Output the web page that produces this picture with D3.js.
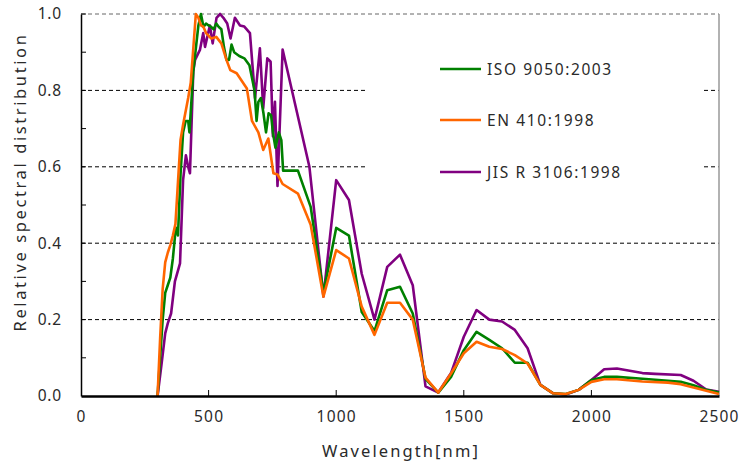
<!DOCTYPE html>
<html><head><meta charset="utf-8">
<script src="https://cdn.jsdelivr.net/npm/d3@7"></script>
<style>body{margin:0;background:#fff}svg{display:block}text{font-family:"Noto Sans",Arial,sans-serif;fill:#2a2a2a}</style>
</head><body>
<svg id="c" width="742" height="466"></svg>
<script>
const seriesNames = ["ISO 9050:2003", "EN 410:1998", "JIS R 3106:1998"];
const seriesColors = ["#008000", "#ff6600", "#800080"];
const isoWave = [300,310,320,330,340,350,360,370,375,380,390,400,410,420,425,440,460,470,480,490,500,510,520,530,540,550,560,570,580,590,600,620,640,660,680,688,695,705,715,725,735,745,752,762,775,785,792,850,900,950,1000,1050,1100,1150,1200,1250,1300,1350,1400,1450,1500,1550,1600,1650,1700,1750,1800,1850,1900,1950,2000,2050,2100,2200,2300,2350,2400,2450,2500];
const isoVal  = [0,0.1,0.2,0.27,0.29,0.31,0.36,0.43,0.44,0.42,0.58,0.69,0.72,0.72,0.69,0.85,0.97,1.0,0.966,0.975,0.97,0.966,0.96,0.975,0.966,0.96,0.914,0.88,0.88,0.92,0.9,0.89,0.884,0.866,0.8,0.72,0.77,0.78,0.74,0.69,0.74,0.735,0.69,0.65,0.69,0.67,0.59,0.59,0.495,0.27,0.44,0.42,0.22,0.17,0.277,0.286,0.216,0.045,0.009,0.05,0.12,0.168,0.147,0.125,0.087,0.087,0.029,0.007,0.005,0.016,0.042,0.05,0.05,0.045,0.04,0.037,0.028,0.016,0.009];
const enWave = [300,310,320,330,340,350,360,370,380,390,400,420,430,450,460,470,480,490,510,530,550,570,585,610,625,650,670,695,714,734,754,770,790,850,900,950,1000,1050,1100,1150,1200,1250,1300,1350,1400,1450,1500,1550,1600,1650,1700,1750,1800,1850,1900,1950,2000,2050,2100,2200,2300,2350,2400,2450,2500];
const enVal  = [0,0.15,0.28,0.35,0.375,0.395,0.42,0.45,0.56,0.67,0.71,0.78,0.82,1.0,0.99,0.97,0.966,0.95,0.936,0.94,0.923,0.88,0.853,0.845,0.83,0.805,0.72,0.69,0.644,0.674,0.583,0.58,0.555,0.53,0.448,0.26,0.382,0.36,0.234,0.16,0.244,0.244,0.2,0.048,0.009,0.059,0.112,0.142,0.129,0.123,0.107,0.085,0.029,0.007,0.005,0.016,0.037,0.044,0.044,0.038,0.035,0.031,0.022,0.014,0.005];
const jisWave = [300,315,330,340,353,368,388,400,411,420,427,440,447,466,479,486,505,516,531,545,558,573,586,603,623,640,662,682,701,714,730,743,752,760,770,790,895,950,1000,1050,1100,1150,1200,1250,1300,1350,1400,1450,1500,1550,1600,1650,1700,1750,1800,1850,1900,1950,2000,2050,2100,2150,2200,2250,2350,2400,2450,2500];
const jisVal  = [0,0.08,0.164,0.19,0.216,0.3,0.347,0.565,0.63,0.6,0.583,0.85,0.88,0.906,0.95,0.914,0.97,0.923,0.99,1.0,0.99,0.975,0.936,0.99,0.97,0.967,0.95,0.78,0.91,0.753,0.884,0.875,0.68,0.77,0.55,0.907,0.6,0.26,0.565,0.513,0.32,0.2,0.338,0.37,0.29,0.025,0.009,0.06,0.155,0.225,0.2,0.195,0.173,0.125,0.029,0.007,0.004,0.016,0.042,0.07,0.072,0.066,0.06,0.058,0.055,0.04,0.017,0.011];
const xTicks = [0,500,1000,1500,2000,2500];
const yTicks = [0,0.2,0.4,0.6,0.8,1.0];
const yMinor = [0.1,0.3,0.5,0.7,0.9];

const svg = d3.select("#c");
const x = d3.scaleLinear().domain([0,2500]).range([81,719]);
const y = d3.scaleLinear().domain([0,1]).range([396,14]);

// gridlines
svg.append("g").selectAll("line").data(yTicks.filter(d=>d>0)).join("line")
  .attr("x1",x(0)).attr("x2",x(2500)).attr("y1",d=>y(d)).attr("y2",d=>y(d))
  .attr("stroke",d=>d===1?"#666":"#000").attr("stroke-width",1).attr("stroke-dasharray","4,3");
// right border
svg.append("line").attr("x1",x(2500)).attr("x2",x(2500)).attr("y1",y(1)).attr("y2",y(0)).attr("stroke","#999").attr("stroke-width",1.5);

// legend background covering gridlines
svg.append("rect").attr("x",366).attr("y",40).attr("width",335).attr("height",160).attr("fill","#fff");

const data = [
  isoWave.map((w,i)=>[w,isoVal[i]]),
  enWave.map((w,i)=>[w,enVal[i]]),
  jisWave.map((w,i)=>[w,jisVal[i]])
];
const line = d3.line().x(d=>x(d[0])).y(d=>y(d[1]));
const order = [2,0,1];
order.forEach(i=>{
  svg.append("path").datum(data[i]).attr("d",line).attr("fill","none")
    .attr("stroke",seriesColors[i]).attr("stroke-width",2.6).attr("stroke-linejoin","round");
});

// axes
const xAxis = d3.axisBottom(x).tickValues(xTicks).tickSize(0).tickPadding(15).tickFormat(d3.format("d"));
const gx = svg.append("g").attr("transform",`translate(0,${y(0)})`).call(xAxis);
gx.select(".domain").attr("stroke","#000").attr("stroke-width",2.5);
gx.selectAll("text").attr("font-size",15.5).style("letter-spacing","1.2px").attr("fill","#2a2a2a");
svg.append("g").selectAll("line").data(xTicks.slice(1,-1)).join("line")
  .attr("x1",d=>x(d)).attr("x2",d=>x(d)).attr("y1",y(0)).attr("y2",y(0)-6).attr("stroke","#000").attr("stroke-width",1);

const yAxis = d3.axisLeft(y).tickValues(yTicks).tickSize(0).tickPadding(19).tickFormat(d3.format(".1f"));
const gy = svg.append("g").attr("transform",`translate(${x(0)},0)`).call(yAxis);
gy.select(".domain").attr("stroke","#000").attr("stroke-width",1.5);
gy.selectAll("text").attr("font-size",15.5).style("letter-spacing","0.8px").attr("fill","#2a2a2a");
svg.append("g").selectAll("line").data(yTicks.concat(yMinor).filter(d=>d>0)).join("line")
  .attr("x1",x(0)).attr("x2",x(0)+5).attr("y1",d=>y(d)).attr("y2",d=>y(d)).attr("stroke","#000").attr("stroke-width",1);

// axis titles
svg.append("text").attr("x",401).attr("y",457).attr("text-anchor","middle").attr("font-size",16.5)
  .style("letter-spacing","2.1px").text("Wavelength[nm]");
svg.append("text").attr("transform","translate(26,182) rotate(-90)").attr("text-anchor","middle").attr("font-size",16.5)
  .style("letter-spacing","2.6px").text("Relative spectral distribution");

// legend
const ly = [69,120,172];
seriesNames.forEach((n,i)=>{
  svg.append("line").attr("x1",440).attr("x2",481).attr("y1",ly[i]).attr("y2",ly[i])
    .attr("stroke",seriesColors[i]).attr("stroke-width",2.6);
  svg.append("text").attr("x",487).attr("y",ly[i]+5.5).attr("font-size",15.5).style("letter-spacing","1.6px").text(n);
});
</script>
</body></html>
